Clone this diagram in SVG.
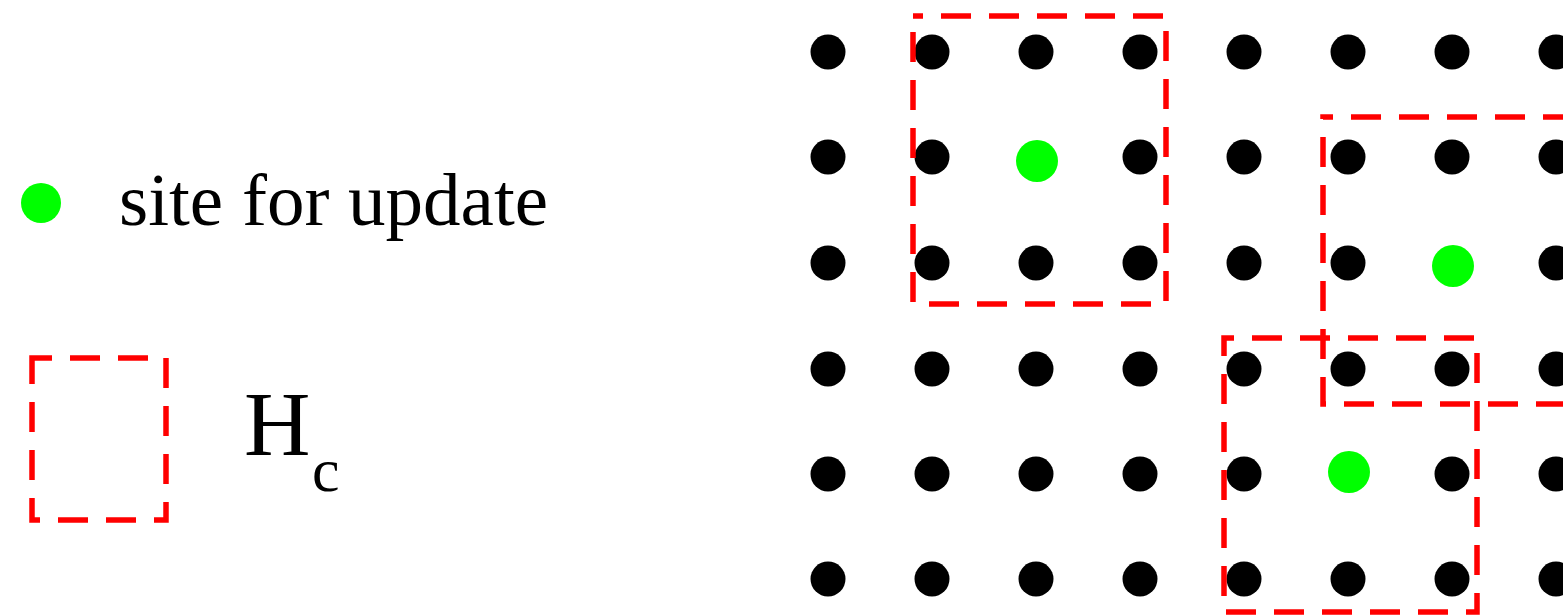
<svg xmlns="http://www.w3.org/2000/svg" width="1563" height="615" viewBox="0 0 1563 615">
<style>
.dot{fill:#000}
.site{fill:#00ff00}
.hc{fill:none;stroke:#ff0000;stroke-width:5.5;stroke-dasharray:30 18}
.t{font-family:"Liberation Serif","Times New Roman",serif;fill:#000}
</style>
<rect width="1563" height="615" fill="#fff"/>
<g id="legend">
<g id="legend-site">
<circle class="site" cx="41" cy="203" r="20"/>
<text class="t" x="119" y="225" font-size="75">site for update</text>
</g>
<g id="legend-hc">
<rect class="hc" x="32" y="358" width="134" height="162" stroke-dashoffset="10"/>
<text class="t" x="244" y="455" font-size="92">H</text>
<text class="t" x="312" y="491" font-size="62">c</text>
</g>
</g>
<g id="lattice">
<g id="row0"><circle class="dot" cx="828" cy="52" r="17.5"/><circle class="dot" cx="932" cy="52" r="17.5"/><circle class="dot" cx="1036" cy="52" r="17.5"/><circle class="dot" cx="1140" cy="52" r="17.5"/><circle class="dot" cx="1244" cy="52" r="17.5"/><circle class="dot" cx="1348" cy="52" r="17.5"/><circle class="dot" cx="1452" cy="52" r="17.5"/><circle class="dot" cx="1556" cy="52" r="17.5"/></g>
<g id="row1"><circle class="dot" cx="828" cy="157" r="17.5"/><circle class="dot" cx="932" cy="157" r="17.5"/><circle class="site" cx="1037" cy="161" r="21"/><circle class="dot" cx="1140" cy="157" r="17.5"/><circle class="dot" cx="1244" cy="157" r="17.5"/><circle class="dot" cx="1348" cy="157" r="17.5"/><circle class="dot" cx="1452" cy="157" r="17.5"/><circle class="dot" cx="1556" cy="157" r="17.5"/></g>
<g id="row2"><circle class="dot" cx="828" cy="263" r="17.5"/><circle class="dot" cx="932" cy="263" r="17.5"/><circle class="dot" cx="1036" cy="263" r="17.5"/><circle class="dot" cx="1140" cy="263" r="17.5"/><circle class="dot" cx="1244" cy="263" r="17.5"/><circle class="dot" cx="1348" cy="263" r="17.5"/><circle class="site" cx="1453" cy="266" r="21"/><circle class="dot" cx="1556" cy="263" r="17.5"/></g>
<g id="row3"><circle class="dot" cx="828" cy="369" r="17.5"/><circle class="dot" cx="932" cy="369" r="17.5"/><circle class="dot" cx="1036" cy="369" r="17.5"/><circle class="dot" cx="1140" cy="369" r="17.5"/><circle class="dot" cx="1244" cy="369" r="17.5"/><circle class="dot" cx="1348" cy="369" r="17.5"/><circle class="dot" cx="1452" cy="369" r="17.5"/><circle class="dot" cx="1556" cy="369" r="17.5"/></g>
<g id="row4"><circle class="dot" cx="828" cy="474" r="17.5"/><circle class="dot" cx="932" cy="474" r="17.5"/><circle class="dot" cx="1036" cy="474" r="17.5"/><circle class="dot" cx="1140" cy="474" r="17.5"/><circle class="dot" cx="1244" cy="474" r="17.5"/><circle class="site" cx="1349" cy="472" r="21"/><circle class="dot" cx="1452" cy="474" r="17.5"/><circle class="dot" cx="1556" cy="474" r="17.5"/></g>
<g id="row5"><circle class="dot" cx="828" cy="579" r="17.5"/><circle class="dot" cx="932" cy="579" r="17.5"/><circle class="dot" cx="1036" cy="579" r="17.5"/><circle class="dot" cx="1140" cy="579" r="17.5"/><circle class="dot" cx="1244" cy="579" r="17.5"/><circle class="dot" cx="1348" cy="579" r="17.5"/><circle class="dot" cx="1452" cy="579" r="17.5"/><circle class="dot" cx="1556" cy="579" r="17.5"/></g>
</g>
<g id="neighbourhoods">
<rect id="hc1" class="hc" x="913" y="16" width="253" height="288" stroke-dashoffset="20"/>
<rect id="hc2" class="hc" x="1323" y="117" width="280" height="287" stroke-dashoffset="20"/>
<rect id="hc3" class="hc" x="1224" y="338" width="253" height="274" stroke-dashoffset="20"/>
</g>
</svg>
